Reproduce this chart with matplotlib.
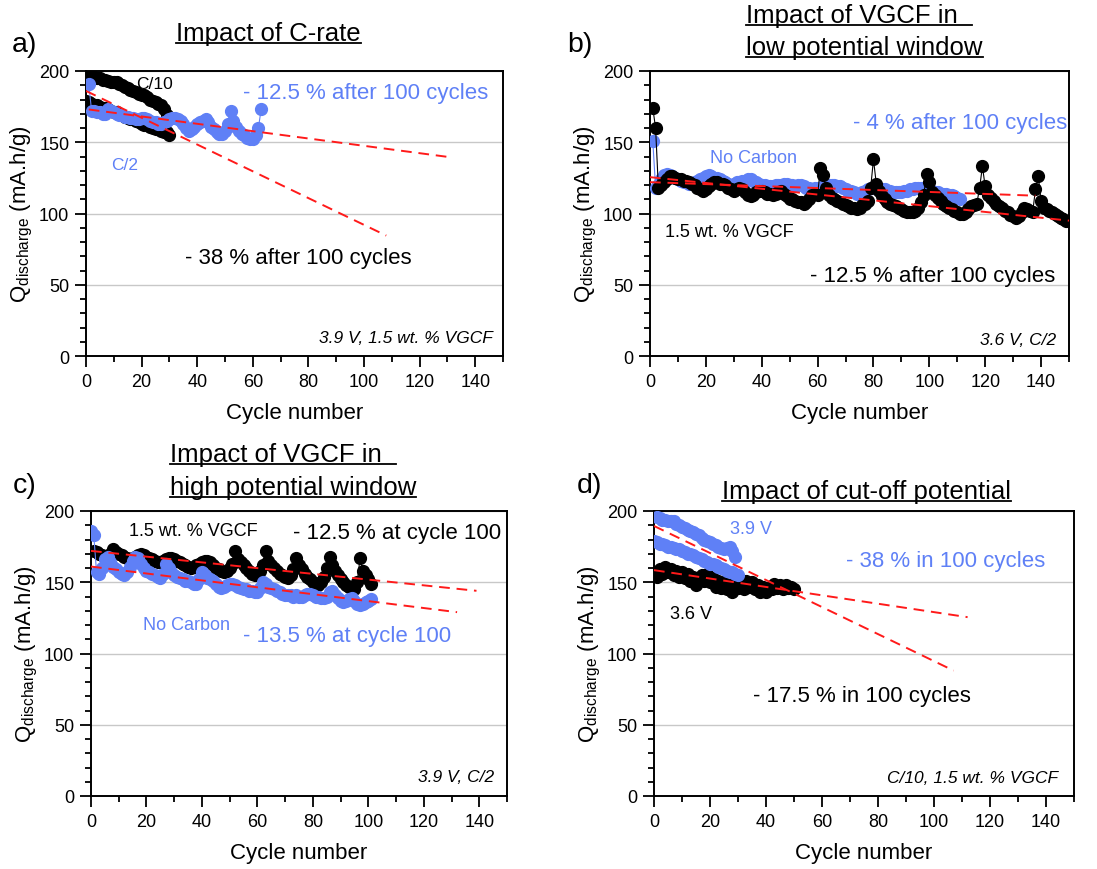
import numpy as np
import matplotlib
matplotlib.use("Agg")
import matplotlib.pyplot as plt
from matplotlib.lines import Line2D
from matplotlib.ticker import MultipleLocator

plt.rcParams['font.family'] = 'Liberation Sans'
plt.rcParams['mathtext.default'] = 'regular'

BLUE = '#5f80f6'
BLACK = 'black'
RED = '#ff1a1a'

W, H = 1097, 870

# ---------------- data ----------------
# a) impact of C-rate (3.9 V, 1.5 wt.% VGCF)
a_c10_top = [198, 197, 196, 196, 195, 195, 194, 194, 193, 192, 192, 192, 191, 190, 189,
             188, 187, 186, 185, 184, 183, 183, 182, 180, 179, 178, 177, 176, 173, 169]
a_c10_bot = [179, 178, 177, 176, 176, 175, 174, 174, 173, 172, 171, 171, 170, 169, 168, 167,
             166, 166, 165, 164, 163, 162, 162, 161, 160, 159, 159, 158, 157, 157, 155]
a_c2 = [191, 172, 172, 171, 171, 170, 170, 173, 172, 171, 170, 169, 169, 168, 168, 167,
        167, 166, 166, 167, 167, 166, 165, 164, 164, 163, 163, 164, 165, 166, 167, 167,
        166, 165, 163, 160, 158, 159, 161, 163, 164, 165, 166, 164, 161, 159, 157, 156,
        156, 158, 163, 172, 165, 161, 158, 156, 155, 153, 152, 152, 155, 160, 173]
a_fit_c2 = ([1, 131], [173, 139.5])
a_fit_c10 = ([0, 108], [186, 84.5])

# b) VGCF, low potential window (3.6 V, C/2)
b_vgcf = [174, 160, 118, 120, 122, 124, 126, 126, 125, 124, 124, 123, 123, 122, 121, 120,
          118, 117, 116, 117, 119, 121, 122, 122, 121, 121, 120, 118, 117, 116, 117, 118,
          117, 115, 113, 112, 113, 115, 116, 116, 115, 114, 114, 113, 114, 115, 116, 114,
          112, 110, 110, 109, 108, 108, 107, 108, 110, 113, 114, 113, 132, 127, 118, 113,
          111, 110, 109, 108, 107, 106, 105, 104, 104, 103, 104, 106, 107, 109, 118, 138,
          121, 116, 112, 110, 108, 107, 106, 105, 104, 103, 102, 101, 101, 101, 102, 104,
          108, 113, 128, 122, 115, 113, 111, 109, 107, 105, 104, 103, 102, 101, 100, 100,
          101, 103, 105, 106, 107, 118, 133, 119, 113, 111, 109, 107, 105, 104, 102, 101,
          99, 98, 97, 98, 101, 104, 103, 102, 101, 117, 126, 109, 104, 103, 102, 101, 100,
          98, 97, 96, 95, 95]
b_nocarbon = [151, 118, 120, 124, 127, 128, 127, 126, 125, 124, 123, 122, 122, 121, 121,
              122, 123, 124, 125, 126, 127, 126, 125, 125, 124, 123, 122, 121, 120, 121,
              122, 122, 123, 123, 124, 124, 123, 122, 121, 120, 120, 119, 119, 119, 120,
              120, 120, 121, 121, 120, 120, 119, 120, 120, 119, 118, 118, 117, 118, 118,
              118, 119, 119, 120, 120, 120, 119, 119, 118, 117, 116, 116, 115, 114, 114,
              115, 116, 117, 118, 118, 118, 117, 117, 117, 116, 116, 115, 115, 115, 115,
              116, 116, 117, 117, 118, 118, 118, 117, 117, 116, 116, 115, 115, 114, 114,
              114, 113, 113, 112, 111, 110]
b_fit_nocarbon = ([0, 138], [122, 112.5])
b_fit_vgcf = ([0, 150], [125.5, 95])

# c) VGCF, high potential window (3.9 V, C/2)
c_vgcf = [172, 171, 170, 169, 168, 168, 170, 173, 171, 170, 169, 168, 167, 166, 167, 168,
          169, 170, 169, 168, 167, 166, 165, 164, 164, 165, 166, 167, 167, 166, 165, 164,
          163, 162, 161, 160, 161, 162, 163, 164, 165, 165, 164, 162, 160, 159, 158, 157,
          158, 160, 163, 172, 166, 164, 162, 160, 158, 156, 155, 156, 158, 162, 172, 165,
          162, 160, 158, 156, 155, 154, 153, 155, 159, 167, 162, 159, 156, 154, 152, 150,
          149, 148, 150, 154, 160, 168, 162, 158, 155, 152, 150, 148, 147, 146, 145, 150,
          167, 158, 155, 152, 149]
c_nocarbon = [186, 183, 157, 156, 160, 166, 168, 164, 161, 159, 157, 156, 155, 157, 161,
              165, 168, 167, 163, 160, 158, 157, 156, 155, 154, 153, 156, 163, 160, 157,
              155, 154, 153, 152, 151, 151, 150, 149, 149, 152, 157, 155, 153, 152, 151,
              149, 147, 146, 147, 148, 149, 149, 148, 147, 146, 145, 145, 144, 144, 143,
              143, 146, 150, 149, 147, 146, 145, 144, 143, 142, 141, 141, 141, 140, 141,
              140, 140, 141, 142, 142, 141, 140, 140, 139, 139, 140, 143, 144, 141, 139,
              137, 136, 137, 138, 139, 137, 135, 134, 135, 136, 137, 138]
c_fit_vgcf = ([0, 139], [172, 144])
c_fit_nocarbon = ([0, 132], [161, 129])

# d) cut-off potential (C/10, 1.5 wt.% VGCF)
d_39_top = [196, 195, 194, 194, 193, 193, 193, 191, 190, 189, 188, 187, 186, 185, 184,
            183, 181, 180, 179, 178, 177, 176, 175, 174, 173, 174, 175, 172, 168]
d_39_bot = [179, 178, 177, 177, 176, 175, 175, 174, 173, 173, 172, 171, 170, 170, 169,
            168, 167, 166, 165, 164, 163, 163, 162, 161, 160, 159, 158, 157, 157, 156, 155]
d_36 = [157, 154, 159, 156, 161, 157, 159, 155, 158, 154, 157, 153, 156, 151, 154, 148,
        152, 155, 151, 156, 150, 153, 147, 151, 146, 150, 145, 149, 143, 148, 146, 150,
        145, 151, 147, 150, 145, 148, 143, 147, 143, 146, 145, 149, 146, 148, 145, 148,
        146, 147, 145]
d_fit_39 = ([0, 107], [189.5, 88])
d_fit_36 = ([0, 112], [158.5, 125.5])

# ---------------- figure ----------------
fig = plt.figure(figsize=(W / 100, H / 100), dpi=100)


def make_axes(left, right, top, bottom):
    ax = fig.add_axes([left / W, 1 - bottom / H, (right - left) / W, (bottom - top) / H])
    ax.set_xlim(0, 150)
    ax.set_ylim(0, 200)
    ax.xaxis.set_major_locator(MultipleLocator(20))
    ax.xaxis.set_minor_locator(MultipleLocator(10))
    ax.yaxis.set_major_locator(MultipleLocator(50))
    ax.yaxis.set_minor_locator(MultipleLocator(10))
    ax.tick_params(which='both', direction='out', top=False, right=False, width=1.3,
                   labelsize=13, pad=4)
    ax.tick_params(which='major', length=8)
    ax.tick_params(which='minor', length=4)
    ax.grid(axis='y', which='major', color='#c8c8c8', lw=1)
    ax.set_axisbelow(True)
    for s in ax.spines.values():
        s.set_linewidth(1.4)
    ax.set_xlabel('Cycle number', fontsize=16, labelpad=9)
    ax.set_ylabel(r'Q$_{discharge}$ (mA.h/g)', fontsize=16, labelpad=3)
    return ax


def series(ax, y, start, color, z):
    x = np.arange(start, start + len(y))
    ax.plot(x, y, '-o', color=color, ms=8.5, lw=0.8, mec=color, zorder=z)


def fit(ax, line):
    ax.plot(line[0], line[1], color=RED, lw=1.4, ls=(0, (5.5, 3.5)), zorder=10)


def note(ax, x, y, s):
    ax.text(x, y, s, fontsize=12.5, style='italic', ha='right', va='center')


# a)
ax = make_axes(86, 503, 72, 357)
series(ax, a_c10_top, 0, BLACK, 3)
series(ax, a_c10_bot, 0, BLACK, 3)
series(ax, a_c2, 1, BLUE, 4)
fit(ax, a_fit_c2)
fit(ax, a_fit_c10)
ax.text(18, 191, 'C/10', fontsize=12.5, va='center')
ax.text(56.5, 185, '- 12.5 % after 100 cycles', fontsize=16, color=BLUE, va='center')
ax.text(9.2, 134.7, 'C/2', fontsize=12.5, color=BLUE, va='center')
ax.text(35.6, 69.3, '- 38 % after 100 cycles', fontsize=16, va='center')
note(ax, 146.4, 13.1, '3.9 V, 1.5 wt. % VGCF')

# b)
ax = make_axes(650, 1069, 72, 357)
series(ax, b_nocarbon, 1, BLUE, 3)
series(ax, b_vgcf, 1, BLACK, 4)
fit(ax, b_fit_nocarbon)
fit(ax, b_fit_vgcf)
ax.text(72.7, 164.2, '- 4 % after 100 cycles', fontsize=16, color=BLUE, va='center')
ax.text(21.5, 139.6, 'No Carbon', fontsize=13, color=BLUE, va='center')
ax.text(5.4, 87.7, '1.5 wt. % VGCF', fontsize=13, va='center')
ax.text(57.3, 56.8, '- 12.5 % after 100 cycles', fontsize=16, va='center')
note(ax, 145.4, 11.9, '3.6 V, C/2')

# c)
ax = make_axes(91, 507, 512, 797)
series(ax, c_vgcf, 1, BLACK, 3)
series(ax, c_nocarbon, 0, BLUE, 4)
fit(ax, c_fit_vgcf)
fit(ax, c_fit_nocarbon)
ax.text(13.7, 186, '1.5 wt. % VGCF', fontsize=13, va='center')
ax.text(72.9, 184.6, '- 12.5 % at cycle 100', fontsize=16, va='center')
ax.text(18.8, 120.7, 'No Carbon', fontsize=13, color=BLUE, va='center')
ax.text(54.9, 112.3, '- 13.5 % at cycle 100', fontsize=16, color=BLUE, va='center')
note(ax, 145.5, 14, '3.9 V, C/2')

# d)
ax = make_axes(654, 1074, 512, 797)
series(ax, d_36, 0, BLACK, 3)
series(ax, d_39_top, 1, BLUE, 4)
series(ax, d_39_bot, 0, BLUE, 4)
fit(ax, d_fit_39)
fit(ax, d_fit_36)
ax.text(27.1, 187.4, '3.9 V', fontsize=13, color=BLUE, va='center')
ax.text(68.6, 165.6, '- 38 % in 100 cycles', fontsize=16, color=BLUE, va='center')
ax.text(5.7, 128.4, '3.6 V', fontsize=13, va='center')
ax.text(35.4, 70.2, '- 17.5 % in 100 cycles', fontsize=16, va='center')
note(ax, 144.3, 13.3, 'C/10, 1.5 wt. % VGCF')

# panel letters and underlined titles (pixel positions, top-left origin)
for s, px, py in [('a)', 12, 52), ('b)', 567, 52), ('c)', 13, 493), ('d)', 577, 493)]:
    fig.text(px / W, 1 - py / H, s, fontsize=20.5, va='baseline')

titles = [('Impact of C-rate', 176, 41),
          ('Impact of VGCF in ', 746, 23),
          ('low potential window', 746, 55),
          ('Impact of VGCF in ', 170, 462),
          ('high potential window', 170, 495),
          ('Impact of cut-off potential', 722, 499)]
tsize = 18.5
texts = []
for s, px, py in titles:
    t = fig.text(px / W, 1 - py / H, s, fontsize=tsize, va='baseline')
    texts.append((t, s, py))

fig.canvas.draw()
r = fig.canvas.get_renderer()
for t, s, py in texts:
    bb = t.get_window_extent(r)
    x1 = bb.x1
    if s.endswith(' '):
        x1 += 0.278 * tsize * 100 / 72
    uy = 1 - (py + 3) / H
    fig.add_artist(Line2D([bb.x0 / W, x1 / W], [uy, uy], color='black', lw=1.3,
                          transform=fig.transFigure))

fig.savefig('out.png', dpi=100)
